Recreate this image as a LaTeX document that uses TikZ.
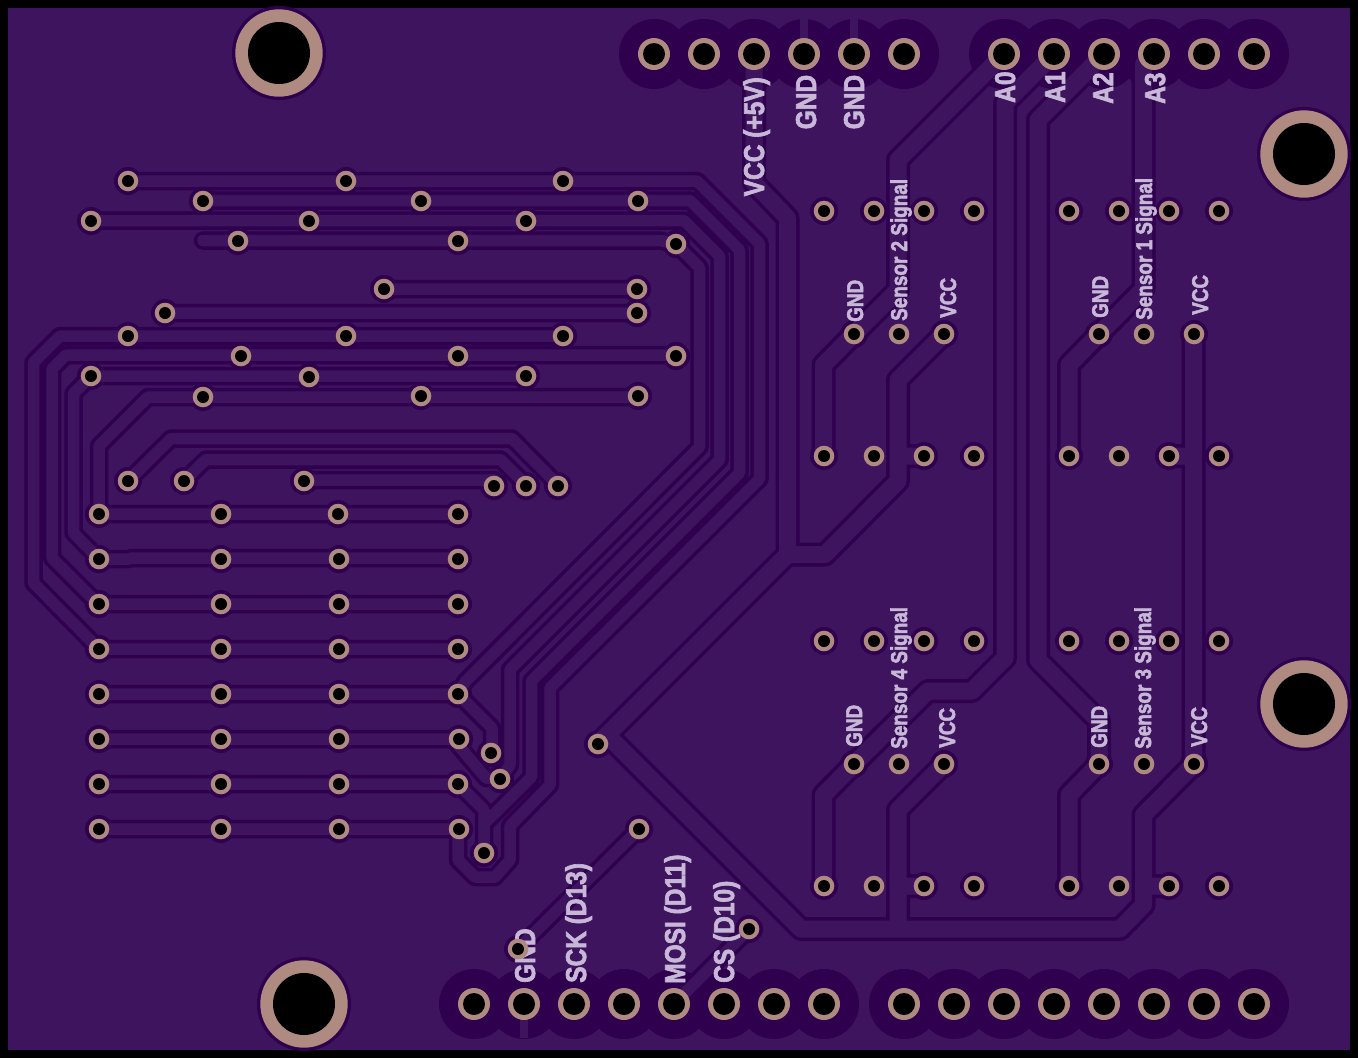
\documentclass[tikz,border=0pt]{standalone}
\usepackage{fontspec}
\setmainfont{Liberation Sans}
\newfontfamily\silkfont[BoldFont={Liberation Sans Bold},BoldFeatures={FakeBold=2.5}]{Liberation Sans}
\definecolor{board}{RGB}{62,20,95}
\definecolor{clear}{RGB}{46,0,78}
\definecolor{copper}{RGB}{174,138,128}
\definecolor{silk}{RGB}{200,184,216}
\tikzset{
  thinedge/.style={draw=clear,line width=18.5pt,line join=round,line cap=round},
  thinfill/.style={draw=board,line width=11.5pt,line join=round,line cap=round},
  wideedge/.style={draw=clear,line width=24pt,line join=round},
  widefill/.style={draw=board,line width=17pt,line join=round},
  silklabel/.style={text=silk,rotate=90,anchor=base west,inner sep=0pt}
}
\newcommand{\thintraces}{
  (128,181)--(697,181)--(759.5,243.5)--(759.5,479)--(550,688)--(550,785)--(510,826)--(510,860)--(495,877)--(475,877)--(458,860)--(458,829)
  (203,200.5)--(690,200.5)--(739.5,250)--(739.5,473)--(531.5,681)--(531.5,777)--(484,824)
  (91,220.5)--(684,220.5)--(719.5,256)--(719.5,460)--(510,669.5)--(510,765)--(500,779)
  (203,240.5)--(660,240.5)--(676,244)--(699.5,267.5)--(699.5,447)--(465,682)--(458,694)
  (384,289)--(637,289)
  (165,313)--(637,313)
  (563,336)--(60,336)--(33.5,362.5)--(33.5,583)--(99,649)
  (676,355)--(66,355)--(52,369)--(52,558)--(99,605)
  (526,376)--(91,376)--(73.5,393.5)--(73.5,533)--(99,559)
  (638,397)--(148,397)--(99,446)--(99,514)
  (128,481)--(171,438.5)--(512,438.5)--(558,485)
  (184,481)--(206,459.5)--(500.5,459.5)--(526,485)
  (304,480)--(494,480)--(494,486)
  (99,514)--(458,514)
  (99,559)--(129,559)--(131,558)--(458,558)
  (99,604)--(458,604)
  (99,649)--(458,649)
  (99,694)--(458,694)
  (99,739)--(458,739)
  (99,784)--(458,784)
  (99,829)--(458,829)
  (458,694)--(492,728)--(492,753)
  (458,739)--(458,745)--(486,778)--(500,779)
  (458,784)--(484,810)--(484,853)
  (639,829)--(518,949)
  (749,929)--(674,1004)
}
\newcommand{\widetraces}{
  (754,54)--(754,183)--(787.5,218)--(787.5,554.5)--(607,735)--(801,929)--(1120,929)--(1143.5,905)--(1143.5,815)--(1194,764)
  (598,744)--(607,735)
  (787.5,554.5)--(825,554.5)--(898,481)--(898,380)--(944,334)
  (924,456)--(898,456)
  (898,929)--(898,810)--(944,764)
  (924,886)--(898,886)
  (1169,886)--(1143.5,886)
  (1193.5,334)--(1193.5,764)
  (1169,456)--(1193.5,456)
  (1004,54)--(898,160)--(898,290)--(854,334)--(823.5,365)--(823.5,456)
  (1154,54)--(1143.5,64)--(1143.5,289)--(1099,334)--(1069,365)--(1069,456)
  (1054,54)--(1005,103)--(1005,658)--(972,691)--(928,691)--(854,764)--(823.5,795)--(823.5,886)
  (1104,54)--(1038,120)--(1038,660)--(1099,721)--(1099,764)--(1069,795)--(1069,886)
}
\newcommand{\smallhalo}{(128,181),(346,181),(563,181),(203,201),(421,201),(638,201),(91,221),(309,221),(526,221),
  (238,241),(458,241),(676,244),(384,289),(637,289),(165,313),(637,313),(128,336),(346,336),(563,336),
  (241,356),(458,356),(676,356),(91,376),(309,377),(526,376),(203,397),(421,396),(638,396),
  (128,481),(184,481),(304,481),(494,486),(526,486),(558,486),(491,753),(500,779),(484,853),(598,744),(639,829),(518,949),(749,929),
  (99,514),(221,514),(338,514),(458,514),(99,559),(221,559),(339,559),(458,559),
  (99,604),(221,604),(339,604),(458,604),(99,649),(221,649),(339,649),(458,649),
  (99,694),(221,694),(339,694),(458,694),(99,739),(221,739),(339,739),(459,739),
  (99,784),(221,784),(339,784),(458,784),(99,829),(221,829),(339,829),(459,829),
  (824,211),(874,211),(924,211),(974,211),(1069,211),(1119,211),(1169,211),(1219,211),
  (854,334),(944,334),(1099,334),(1194,334),
  (824,456),(924,456),(974,456),(1069,456),(1169,456),(1219,456),
  (824,641),(874,641),(924,641),(974,641),(1069,641),(1119,641),(1169,641),(1219,641),
  (854,764),(944,764),(1099,764),(1194,764),
  (824,886),(924,886),(974,886),(1069,886),(1169,886),(1219,886)}
\newcommand{\smallbare}{(899,334),(1144,334),(874,456),(1119,456),(899,764),(1144,764),(874,886),(1119,886)}
\newcommand{\headerpads}{(654,54),(704,54),(754,54),(804,54),(854,54),(904,54),
  (1004,54),(1054,54),(1104,54),(1154,54),(1204,54),(1254,54),
  (474,1004),(524,1004),(574,1004),(624,1004),(674,1004),(724,1004),(774,1004),(824,1004),
  (904,1004),(954,1004),(1004,1004),(1054,1004),(1104,1004),(1154,1004),(1204,1004),(1254,1004)}
\newcommand{\mountpads}{(279,53),(1304,154),(1304,704),(304,1004)}
\newcommand{\biglabel}[3]{\node[silklabel] at (#1,#2) {\fontsize{24.5pt}{24.5pt}\silkfont\bfseries\scalebox{1}[1.17]{#3}};}
\newcommand{\smalllabel}[3]{\node[silklabel] at (#1,#2) {\fontsize{19.5pt}{19.5pt}\silkfont\bfseries\scalebox{0.97}[1.17]{#3}};}
\begin{document}
\begin{tikzpicture}[x=1pt,y=-1pt]
\useasboundingbox (0,0) rectangle (1358,1058);
\fill[black] (0,0) rectangle (1358,1058);
\fill[board] (8,8) rectangle (1350,1050);
% clearance layer
\foreach \p in \headerpads {\fill[clear] \p circle (35pt);}
\foreach \p in \smallhalo {\fill[clear] \p circle (14pt);}
\foreach \p in \mountpads {\fill[clear] \p circle (47pt);}
\draw[thinedge] \thintraces;
\draw[wideedge] \widetraces;
% copper fill layer
\draw[thinfill] \thintraces;
\draw[widefill] \widetraces;
\draw[board,line width=8pt] (804,54)--(804,18);
\draw[board,line width=8pt] (854,54)--(854,18);
\draw[board,line width=8pt] (524,1004)--(524,1038);
% silkscreen
\biglabel{764}{196.5}{VCC (+5V)}
\biglabel{816}{129.5}{GND}
\biglabel{864}{129.5}{GND}
\biglabel{1015}{103}{A0}
\biglabel{1065}{103}{A1}
\biglabel{1113}{104}{A2}
\biglabel{1165}{104}{A3}
\biglabel{535}{983}{GND}
\biglabel{586}{983}{SCK (D13)}
\biglabel{685}{984}{MOSI (D11)}
\biglabel{734}{983}{CS (D10)}
\smalllabel{863}{322}{GND}
\smalllabel{907}{321}{Sensor 2 Signal}
\smalllabel{956}{318}{VCC}
\smalllabel{1108}{318}{GND}
\smalllabel{1152}{320}{Sensor 1 Signal}
\smalllabel{1208}{315}{VCC}
\smalllabel{862}{747}{GND}
\smalllabel{907}{749}{Sensor 4 Signal}
\smalllabel{955}{748}{VCC}
\smalllabel{1107}{748}{GND}
\smalllabel{1151}{749}{Sensor 3 Signal}
\smalllabel{1207}{747}{VCC}
% pads and drills
\foreach \p in \smallhalo {\fill[copper] \p circle (10.3pt); \fill[black] \p circle (6pt);}
\foreach \p in \smallbare {\fill[copper] \p circle (10.3pt); \fill[black] \p circle (6pt);}
\foreach \p in \headerpads {\fill[copper] \p circle (16pt); \fill[black] \p circle (11pt);}
\foreach \p in \mountpads {\fill[copper] \p circle (43.7pt); \fill[black] \p circle (31pt);}
\end{tikzpicture}
\end{document}
